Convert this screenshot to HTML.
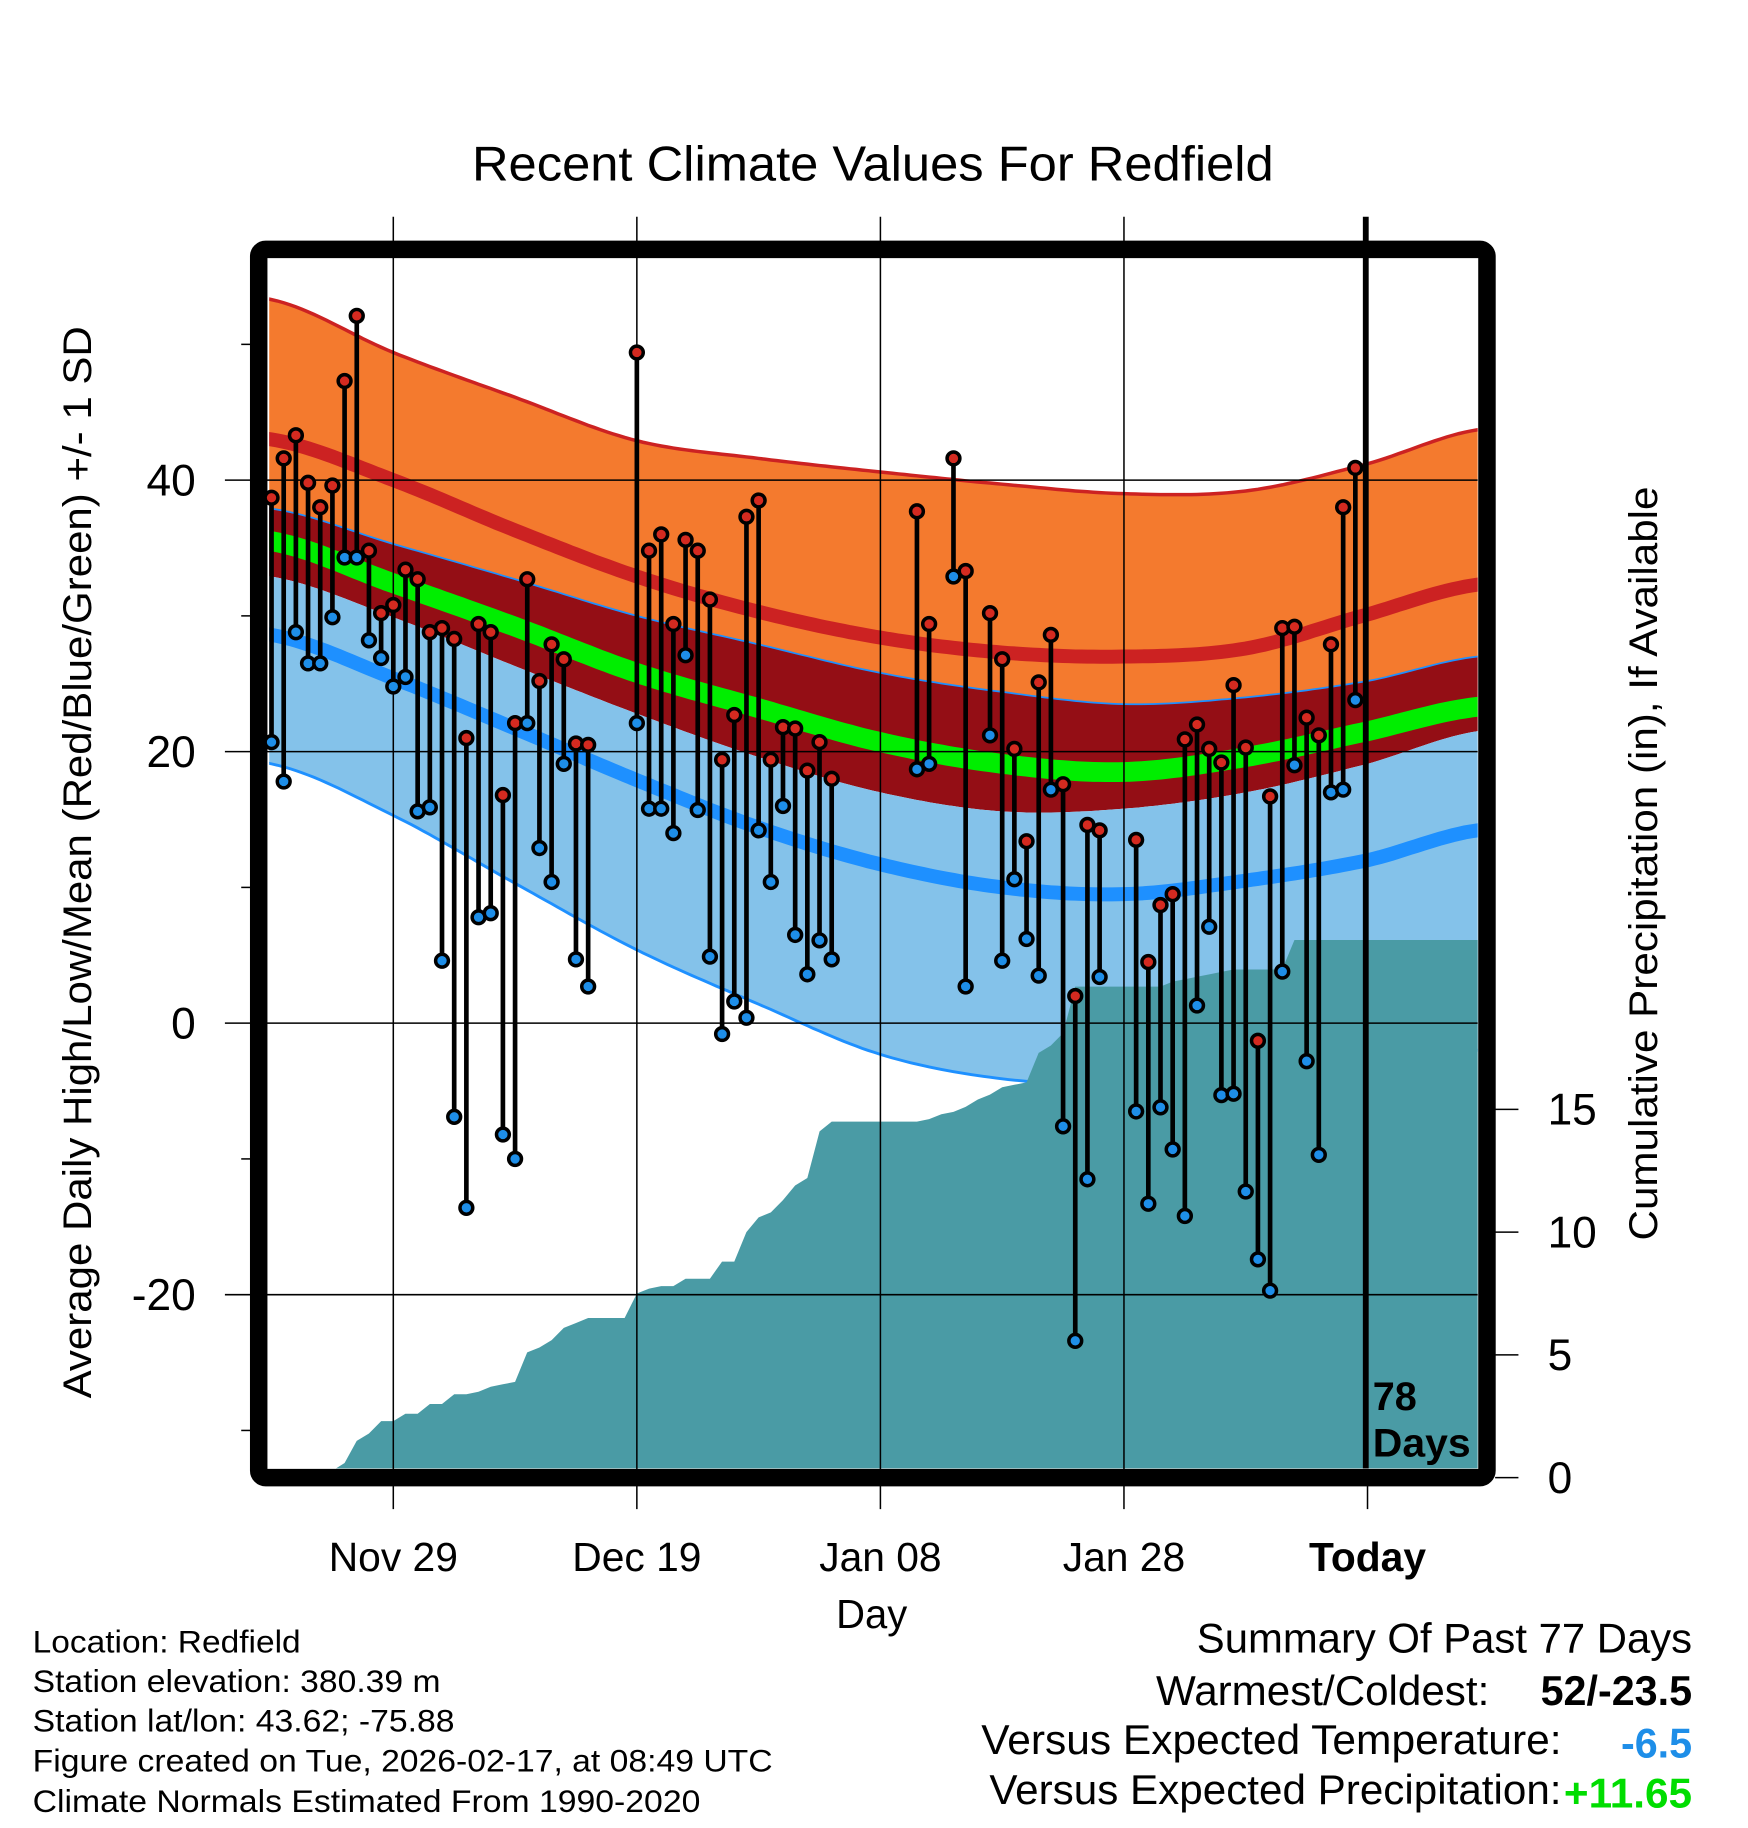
<!DOCTYPE html>
<html><head><meta charset="utf-8"><style>
html,body{margin:0;padding:0;background:#fff;}
svg{display:block;font-family:"Liberation Sans",Arial,sans-serif;}
</style></head><body>
<svg id="chart" width="1748" height="1828" viewBox="0 0 1500 1568.65" xmlns="http://www.w3.org/2000/svg">
<defs><clipPath id="plotclip"><rect x="231" y="222" width="1037" height="1038"/></clipPath></defs>
<rect x="0" y="0" width="1500" height="1568.65" fill="#fff"/>
<text x="749" y="155" font-size="42" text-anchor="middle" textLength="688" lengthAdjust="spacingAndGlyphs">Recent Climate Values For Redfield</text>
<g id="bands" clip-path="url(#plotclip)"></g>
<g id="precip" clip-path="url(#plotclip)"></g>
<g id="grid"></g>
<rect x="222" y="214" width="1054" height="1054" rx="6" fill="none" stroke="#000" stroke-width="15"/>
<g id="axes"></g>
<g id="marks"></g>
<line x1="1172" y1="186" x2="1172" y2="1260" stroke="#000" stroke-width="5"/>
<text x="1178" y="1210" font-size="34" font-weight="bold">78</text>
<text x="1178" y="1250" font-size="34" font-weight="bold" textLength="84" lengthAdjust="spacingAndGlyphs">Days</text>
<text transform="translate(78,740) rotate(-90)" font-size="34" text-anchor="middle" textLength="920" lengthAdjust="spacingAndGlyphs">Average Daily High/Low/Mean (Red/Blue/Green) +/- 1 SD</text>
<text transform="translate(1422,741) rotate(-90)" font-size="34" text-anchor="middle" textLength="647" lengthAdjust="spacingAndGlyphs">Cumulative Precipitation (in), If Available</text>
<text x="748" y="1397" font-size="35" text-anchor="middle" textLength="61" lengthAdjust="spacingAndGlyphs">Day</text>
<g font-size="27">
<text x="28" y="1418" textLength="230" lengthAdjust="spacingAndGlyphs">Location: Redfield</text>
<text x="28" y="1452" textLength="350" lengthAdjust="spacingAndGlyphs">Station elevation: 380.39 m</text>
<text x="28" y="1486" textLength="362" lengthAdjust="spacingAndGlyphs">Station lat/lon: 43.62; -75.88</text>
<text x="28" y="1520" textLength="635" lengthAdjust="spacingAndGlyphs">Figure created on Tue, 2026-02-17, at 08:49 UTC</text>
<text x="28" y="1555" textLength="573" lengthAdjust="spacingAndGlyphs">Climate Normals Estimated From 1990-2020</text>
</g>
<g font-size="36">
<text x="1027" y="1418" textLength="425" lengthAdjust="spacingAndGlyphs">Summary Of Past 77 Days</text>
<text x="992" y="1463" textLength="286" lengthAdjust="spacingAndGlyphs">Warmest/Coldest:</text>
<text x="1322" y="1463" font-weight="bold" textLength="130" lengthAdjust="spacingAndGlyphs">52/-23.5</text>
<text x="842" y="1505" textLength="498" lengthAdjust="spacingAndGlyphs">Versus Expected Temperature:</text>
<text x="1391" y="1508" font-weight="bold" fill="#1e8ee8" textLength="61" lengthAdjust="spacingAndGlyphs">-6.5</text>
<text x="849" y="1548" textLength="491" lengthAdjust="spacingAndGlyphs">Versus Expected Precipitation:</text>
<text x="1342" y="1551" font-weight="bold" fill="#00dd00" textLength="110" lengthAdjust="spacingAndGlyphs">+11.65</text>
</g>
</svg>
<script>
const NS="http://www.w3.org/2000/svg";
const normDays=[0,10,20,30,40,50,60,70,80,90,99];
const recHigh=[53.3,49.4,46.1,42.9,41.6,40.6,39.7,39.0,39.2,41.2,43.7];
const avgHigh=[43.0,40.0,36.3,32.9,30.3,28.4,27.3,27.0,27.6,30.1,32.3];
const highMinusSd=[37.9,35.3,32.7,30.0,27.9,25.8,24.4,23.5,24.0,25.2,27.0];
const avgMean=[35.5,32.4,29.2,25.8,23.2,20.7,19.1,18.5,19.6,21.5,23.3];
const lowPlusSd=[32.9,29.9,26.3,22.8,19.6,17.0,15.6,15.8,17.0,19.1,21.5];
const avgLow=[28.6,25.4,21.7,17.9,14.4,11.7,10.0,9.5,10.5,12.0,14.2];
const recLow=[19.1,15.3,10.3,5.4,1.4,-2.3,-4.1,-4.5,-4.0,-3.0,-2.0];
const highs=[38.7,41.6,43.3,39.8,38.0,39.6,47.3,52.1,34.8,30.2,30.8,33.4,32.7,28.8,29.1,28.3,21.0,29.4,28.8,16.8,22.1,32.7,25.2,27.9,26.8,20.6,20.5,null,null,null,49.4,34.8,36.0,29.4,35.6,34.8,31.2,19.4,22.7,37.3,38.5,19.4,21.8,21.7,18.6,20.7,18.0,null,null,null,null,null,null,37.7,29.4,null,41.6,33.3,null,30.2,26.8,20.2,13.4,25.1,28.6,17.6,2.0,14.6,14.2,null,null,13.5,4.5,8.7,9.5,20.9,22.0,20.2,19.2,24.9,20.3,-1.3,16.7,29.1,29.2,22.5,21.2,27.9,38.0,40.9];
const lows=[20.7,17.8,28.8,26.5,26.5,29.9,34.3,34.3,28.2,26.9,24.8,25.5,15.6,15.9,4.6,-6.9,-13.6,7.8,8.1,-8.2,-10.0,22.1,12.9,10.4,19.1,4.7,2.7,null,null,null,22.1,15.8,15.8,14.0,27.1,15.7,4.9,-0.8,1.6,0.4,14.2,10.4,16.0,6.5,3.6,6.1,4.7,null,null,null,null,null,null,18.7,19.1,null,32.9,2.7,null,21.2,4.6,10.6,6.2,3.5,17.2,-7.6,-23.4,-11.5,3.4,null,null,-6.5,-13.3,-6.2,-9.3,-14.2,1.3,7.1,-5.3,-5.2,-12.4,-17.4,-19.7,3.8,19.0,-2.8,-9.7,17.0,17.2,23.8];
const precip=[0,0,0,0,0,0,0.6,1.5,1.8,2.3,2.3,2.6,2.6,3.0,3.0,3.4,3.4,3.5,3.7,3.8,3.9,5.1,5.3,5.6,6.1,6.3,6.5,6.5,6.5,6.5,7.5,7.7,7.8,7.8,8.1,8.1,8.1,8.8,8.8,10.0,10.6,10.8,11.3,11.9,12.2,14.1,14.5,14.5,14.5,14.5,14.5,14.5,14.5,14.5,14.6,14.8,14.9,15.1,15.4,15.6,15.9,16.0,16.1,17.3,17.6,18.1,20.0,20.0,20.0,20.0,20.0,20.0,20.0,20.0,20.2,20.3,20.4,20.5,20.6,20.7,20.7,20.7,20.7,20.7,21.9,21.9,21.9,21.9,21.9,21.9,21.9,21.9,21.9,21.9,21.9,21.9,21.9,21.9,21.9,21.9];
const yTicks=[40,20,0,-20];
const yMinor=[50,30,10,-10,-30];
const pTicks=[0,5,10,15];
const xTickDays=[10,30,50,70,90];
const xTickLabels=["Nov 29","Dec 19","Jan 08","Jan 28","Today"];

const X=d=>233+d*10.45;
const Y=t=>878-t*11.65;
const P=p=>1268-p*21.07;
function el(tag,attrs,parent){const e=document.createElementNS(NS,tag);for(const k in attrs)e.setAttribute(k,attrs[k]);parent.appendChild(e);return e;}
function smoothPts(vals){const pts=[];for(let d=-1;d<=100;d+=0.5){pts.push([X(d),Y(interp(vals,d))]);}return pts;}
function interp(vals,d){
  let i=0;while(i<normDays.length-2&&d>normDays[i+1])i++;
  const t=Math.max(-0.2,Math.min(1.2,(d-normDays[i])/(normDays[i+1]-normDays[i])));
  const p0=vals[Math.max(0,i-1)],p1=vals[i],p2=vals[i+1],p3=vals[Math.min(vals.length-1,i+2)];
  return 0.5*((2*p1)+(-p0+p2)*t+(2*p0-5*p1+4*p2-p3)*t*t+(-p0+3*p1-3*p2+p3)*t*t*t);}
function line(pts){return pts.map((p,i)=>(i?'L':'M')+p[0].toFixed(1)+','+p[1].toFixed(1)).join('');}
function band(a,b){const pa=smoothPts(a),pb=smoothPts(b).reverse();return line(pa)+line(pb).replace('M','L')+'Z';}

const bands=document.getElementById('bands');
let e;
e=el('path',{d:band(recHigh,highMinusSd),fill:'#f47a2e'},bands);


e=el('path',{d:band(highMinusSd,lowPlusSd),fill:'#940e15'},bands);


e=el('path',{d:band(lowPlusSd,recLow),fill:'#84c2ea'},bands);


e=el('path',{d:line(smoothPts(avgHigh)),fill:'none',stroke:'#cc2222','stroke-width':12},bands);


e=el('path',{d:line(smoothPts(avgMean)),fill:'none',stroke:'#00ee00','stroke-width':17},bands);


e=el('path',{d:line(smoothPts(avgLow)),fill:'none',stroke:'#1e90ff','stroke-width':12},bands);


e=el('path',{d:line(smoothPts(recHigh)),fill:'none',stroke:'#cc2222','stroke-width':3},bands);


e=el('path',{d:line(smoothPts(highMinusSd)),fill:'none',stroke:'#1e90ff','stroke-width':1.5},bands);


e=el('path',{d:line(smoothPts(recLow)),fill:'none',stroke:'#1e90ff','stroke-width':2.5},bands);



const pg=document.getElementById('precip');
let pts=[[X(0),1262]];precip.forEach((v,i)=>pts.push([X(i),Math.min(1262,P(v))]));pts.push([X(99)+10,P(precip[precip.length-1])]);pts.push([X(99)+10,1262]);
e=el('path',{d:line(pts)+'Z',fill:'#4a9ba5'},pg);



const grid=document.getElementById('grid');
yTicks.forEach(t=>{e=el('line',{x1:193,x2:1268,y1:Y(t),y2:Y(t),stroke:'#000','stroke-width':1.3},grid);

});
xTickDays.forEach((d,i)=>{if(i===4)return;e=el('line',{x1:X(d),x2:X(d),y1:186,y2:1295,stroke:'#000','stroke-width':1.3},grid);

});

const axes=document.getElementById('axes');
yTicks.forEach(t=>{e=el('text',{x:168,y:Y(t)+13,'font-size':38,'text-anchor':'end'},axes);e.textContent=String(t);

});
yMinor.forEach(t=>{e=el('line',{x1:207,x2:216,y1:Y(t),y2:Y(t),stroke:'#000','stroke-width':1.3},axes);

});
pTicks.forEach(p=>{e=el('line',{x1:1283,x2:1303,y1:P(p),y2:P(p),stroke:'#000','stroke-width':1.3},axes);


e=el('text',{x:1328,y:P(p)+13,'font-size':38},axes);e.textContent=String(p);

});
xTickDays.forEach((d,i)=>{if(i===4){e=el('line',{x1:X(d),x2:X(d),y1:1268,y2:1295,stroke:'#000','stroke-width':1.3},axes);

}
e=el('text',{x:X(d),y:1348,'font-size':35,'text-anchor':'middle','font-weight':i===4?'bold':'normal'},axes);e.textContent=xTickLabels[i];

});

const marks=document.getElementById('marks');
highs.forEach((h,i)=>{const l=lows[i];if(h===null||l===null)return;
e=el('line',{x1:X(i),x2:X(i),y1:Y(h),y2:Y(l),stroke:'#000','stroke-width':4},marks);


e=el('circle',{cx:X(i),cy:Y(h),r:5.5,fill:'#d42a20',stroke:'#000','stroke-width':3},marks);


e=el('circle',{cx:X(i),cy:Y(l),r:5.5,fill:'#1e8ee8',stroke:'#000','stroke-width':3},marks);

});
</script>
</body></html>
